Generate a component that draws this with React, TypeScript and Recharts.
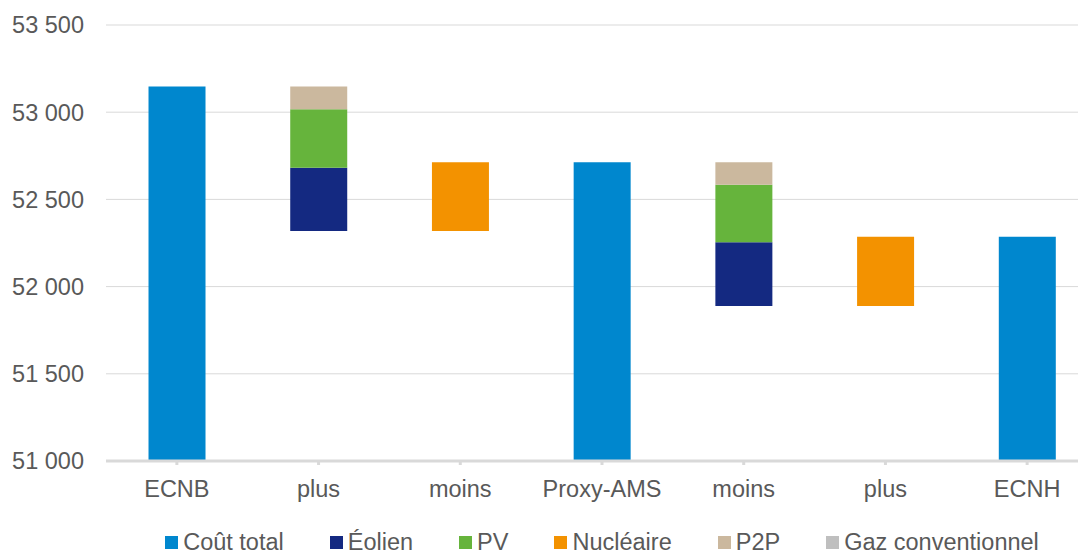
import { BarChart, Bar, XAxis, YAxis, CartesianGrid, Legend } from "recharts";

const categories = ["ECNB", "plus", "moins", "Proxy-AMS", "moins", "plus", "ECNH"];
// invisible floor of the waterfall steps
const base = [0, 52319, 52319, 0, 51889, 51889, 0];
const coutTotal = [53148, null, null, 52713, null, null, 52286];
const eolien = [null, 363, null, null, 365, null, null];
const pv = [null, 335, null, null, 330, null, null];
const nucleaire = [null, null, 394, null, null, 397, null];
const p2p = [null, 131, null, null, 129, null, null];
const gazConventionnel = [null, null, null, null, null, null, null];
const yTicks = [51000, 51500, 52000, 52500, 53000, 53500];

const series = [
  { key: "cout", name: "Coût total", color: "#0087CE", values: coutTotal },
  { key: "eolien", name: "Éolien", color: "#142981", values: eolien },
  { key: "pv", name: "PV", color: "#66B43C", values: pv },
  { key: "nucleaire", name: "Nucléaire", color: "#F39200", values: nucleaire },
  { key: "p2p", name: "P2P", color: "#CBB89E", values: p2p },
  { key: "gaz", name: "Gaz conventionnel", color: "#BFBFBF", values: gazConventionnel },
];

const data = categories.map((name, i) => {
  const row: Record<string, any> = { name, base: base[i] };
  series.forEach(s => { row[s.key] = s.values[i]; });
  return row;
});

const fmt = (v: number) => String(v).replace(/\B(?=(\d{3})+(?!\d))/g, " ");
const FS = 23.5;

const LegendBox = () => (
  <div style={{ display: "flex", justifyContent: "center", gap: 46, paddingTop: 22, lineHeight: "24px", fontSize: FS, color: "#595959" }}>
    {series.map(s => (
      <div key={s.key} style={{ display: "flex", alignItems: "center", whiteSpace: "nowrap" }}>
        <span style={{ width: 13, height: 13, background: s.color, marginRight: 5, display: "inline-block" }} />
        {s.name}
      </div>
    ))}
  </div>
);

export default function App() {
  return (
    <div style={{ margin: "-8px 0 0 -8px", width: 1086, height: 550, overflow: "hidden", fontFamily: "'Liberation Sans', Arial, sans-serif" }}>
      <BarChart width={1098} height={550} data={data} barCategoryGap="30%" margin={{ top: 25, right: 0, left: 0, bottom: 0 }}>
        <CartesianGrid vertical={false} stroke="#D9D9D9" />
        <XAxis dataKey="name" height={47} stroke="#D9D9D9" axisLine={{ stroke: "#D9D9D9", strokeWidth: 3 }}
          tickLine={{ stroke: "#D9D9D9", strokeWidth: 3 }} tickSize={4} tickMargin={15}
          tick={{ fill: "#595959", fontSize: FS }} />
        <YAxis width={106} domain={[51000, 53500]} ticks={yTicks} allowDataOverflow axisLine={false} tickLine={false}
          tickSize={0} tickMargin={22} tickFormatter={fmt} tick={{ fill: "#595959", fontSize: FS }} />
        <Legend verticalAlign="bottom" height={42} wrapperStyle={{ left: 106, width: 992 }} content={() => <LegendBox />} />
        <Bar dataKey="base" stackId="w" fill="transparent" legendType="none" isAnimationActive={false} />
        {series.map(s => (
          <Bar key={s.key} dataKey={s.key} name={s.name} stackId="w" fill={s.color} isAnimationActive={false} />
        ))}
      </BarChart>
    </div>
  );
}
